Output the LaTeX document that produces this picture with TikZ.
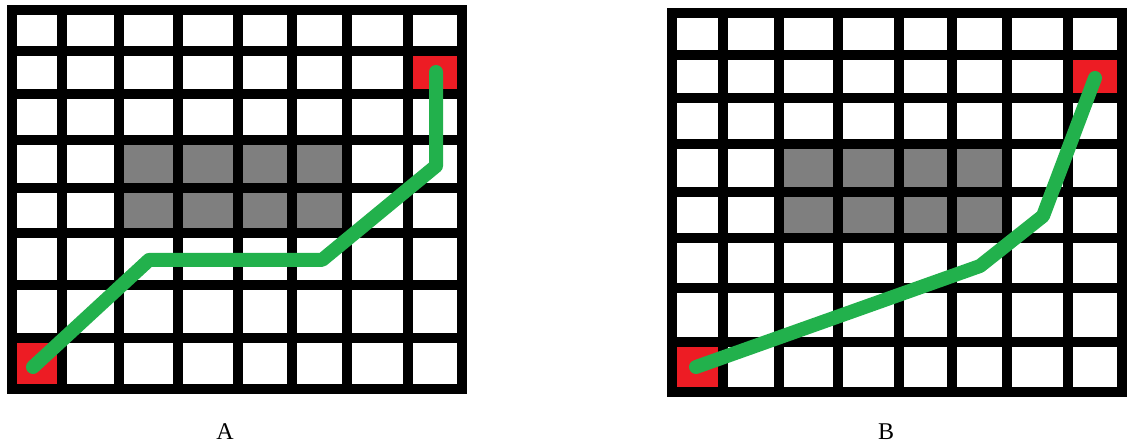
\documentclass[tikz,border=0pt]{standalone}
\usepackage{fontspec}
\setmainfont{Liberation Serif}
\definecolor{pgreen}{HTML}{22B14C}
\definecolor{pred}{HTML}{ED1C24}
\definecolor{pgray}{HTML}{7F7F7F}
\begin{document}
\begin{tikzpicture}[x=1pt,y=-1pt,
  gridline/.style={line width=10pt, draw=black},
  route/.style={draw=pgreen, line width=14pt, line cap=round, line join=round},
  obstacle/.style={fill=pgray},
  endcell/.style={fill=pred},
  caption/.style={font=\fontsize{24}{24}\selectfont, inner sep=0pt}]
\fill[white] (0,0) rectangle (1130,446);
\useasboundingbox (0,0) rectangle (1130,446);
% ---------- Grid A ----------
\fill[obstacle] (119,140) rectangle (347,233);
\fill[endcell] (12,338) rectangle (62,389);
\fill[endcell] (408,51) rectangle (462,94);
\foreach \x in {62,119,178,238,292,347,408}
  \draw[gridline] (\x,10) -- (\x,389);
\foreach \y in {51,94,140,188,233,285,338}
  \draw[gridline] (12,\y) -- (462,\y);
\draw[gridline] (12,10) rectangle (462,389);
\coordinate (a0) at (33,367);
\coordinate (a1) at (149,260);
\coordinate (a2) at (322,260);
\coordinate (a3) at (436,166);
\coordinate (a4) at (436,72);
\draw[route] (a0) -- (a1) -- (a2) -- (a3) -- (a4);
\node[caption] (labA) at (225,432) {A};
% ---------- Grid B ----------
\fill[obstacle] (779,144) rectangle (1007,238);
\fill[endcell] (672,342) rectangle (723,392);
\fill[endcell] (1068,55) rectangle (1122,98);
\foreach \x in {723,779,838,899,952,1007,1068}
  \draw[gridline] (\x,13) -- (\x,392);
\foreach \y in {55,98,144,192,238,288,342}
  \draw[gridline] (672,\y) -- (1122,\y);
\draw[gridline] (672,13) rectangle (1122,392);
\coordinate (b0) at (696,367);
\coordinate (b1) at (980,266);
\coordinate (b2) at (1043,216);
\coordinate (b3) at (1095,78);
\draw[route] (b0) -- (b1) -- (b2) -- (b3);
\node[caption] (labB) at (886,432) {B};
\end{tikzpicture}
\end{document}
